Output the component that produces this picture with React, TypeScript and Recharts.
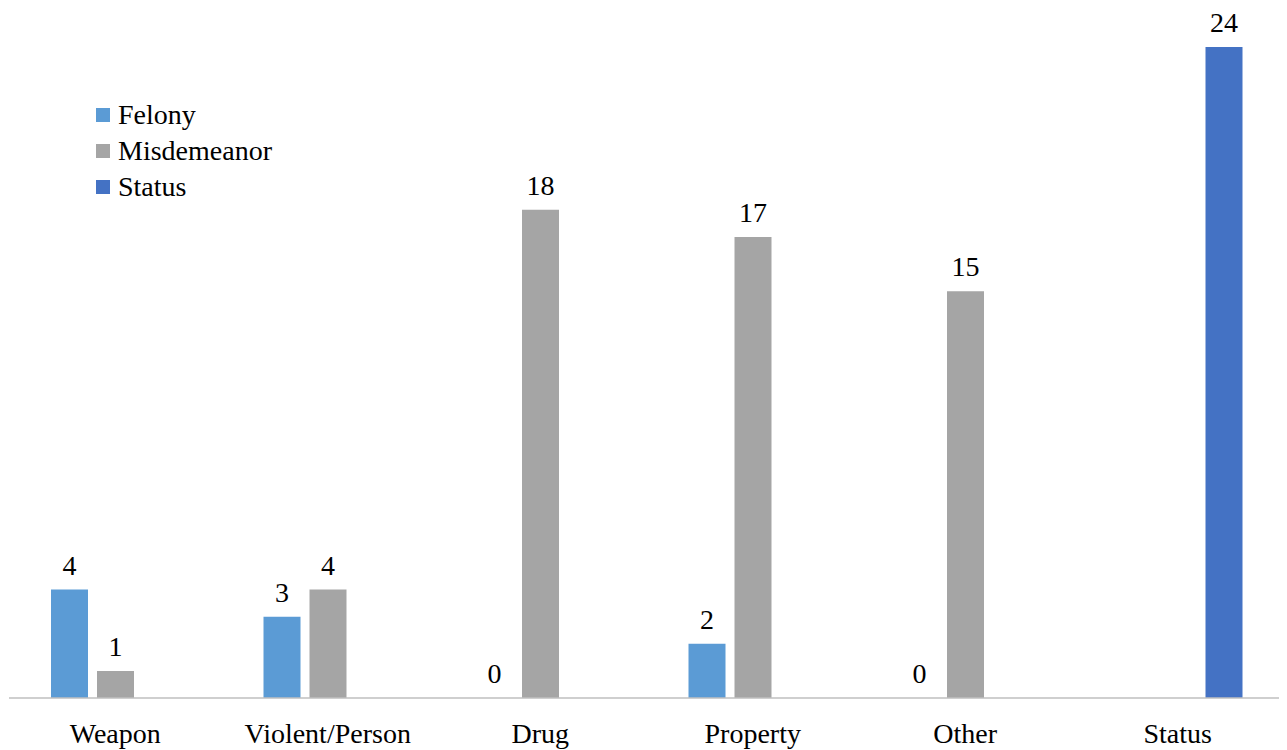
import { BarChart, Bar, XAxis, YAxis } from 'recharts';

const categories = ['Weapon', 'Violent/Person', 'Drug', 'Property', 'Other', 'Status'];
const felony = [4, 3, 0, 2, 0, null];
const misdemeanor = [1, 4, 18, 17, 15, null];
const statusOffense = [null, null, null, null, null, 24];

const SERIES = [
  { key: 'Felony', color: '#5B9BD5' },
  { key: 'Misdemeanor', color: '#A5A5A5' },
  { key: 'Status', color: '#4472C4' },
];

const data = categories.map((name, i) => ({
  name,
  Felony: felony[i],
  Misdemeanor: misdemeanor[i],
  Status: statusOffense[i],
}));

const FONT = '"Liberation Serif", "Times New Roman", serif';

const renderLabel = (props: any) => {
  const { x, y, width, height, value } = props;
  if (value === null || value === undefined) return null;
  // zero-valued bars get a tiny min size so their label is still placed on the baseline
  const top = value === 0 ? Number(y) + Number(height) : Number(y);
  return (
    <text
      x={Number(x) + Number(width) / 2}
      y={top - 15}
      textAnchor="middle"
      style={{ fontFamily: FONT }}
      fontSize={28}
      fill="#000"
    >
      {value}
    </text>
  );
};

const CategoryTick = (props: any) => {
  const { x, y, payload } = props;
  return (
    <text x={x} y={y + 45} textAnchor="middle" style={{ fontFamily: FONT }} fontSize={28} fill="#000">
      {payload.value}
    </text>
  );
};

export default function App() {
  return (
    <div style={{ position: 'relative', width: 1279, height: 742 }}>
      <BarChart
        width={1279}
        height={742}
        data={data}
        margin={{ top: 39, right: 3, left: 1, bottom: 0 }}
        barSize={37}
        barGap={9}
      >
        <XAxis
          dataKey="name"
          interval={0}
          tickLine={false}
          tickSize={0}
          tickMargin={0}
          height={52}
          axisLine={{ stroke: '#BFBFBF', strokeWidth: 1.5 }}
          tick={<CategoryTick />}
        />
        <YAxis hide width={0} domain={[0, 24]} />
        {SERIES.map(s => (
          <Bar
            key={s.key}
            dataKey={s.key}
            fill={s.color}
            isAnimationActive={false}
            minPointSize={(v: any) => (v === 0 ? 0.01 : 0)}
            label={renderLabel}
          />
        ))}
      </BarChart>
      <div style={{ position: 'absolute', left: 88, top: 89, fontFamily: FONT, fontSize: 28, color: '#000' }}>
        {SERIES.map(s => (
          <div key={s.key} style={{ display: 'flex', alignItems: 'center', height: 36, lineHeight: '36px' }}>
            <span style={{ width: 14, height: 14, background: s.color, marginRight: 8, display: 'inline-block' }} />
            <span>{s.key}</span>
          </div>
        ))}
      </div>
    </div>
  );
}
